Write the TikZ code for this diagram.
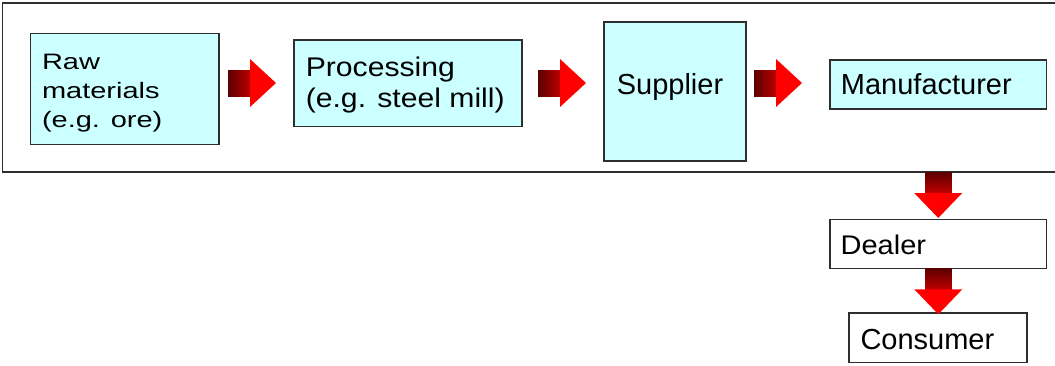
\documentclass[tikz,border=0pt]{standalone}
\usepackage{fontspec}
\setmainfont{Liberation Sans}
\usepackage{graphicx}
\usetikzlibrary{calc}
\definecolor{boxfill}{HTML}{CCFFFF}
\definecolor{arrdark}{HTML}{5C0000}
\definecolor{arrmid}{HTML}{C40000}
\definecolor{arrred}{HTML}{FF0000}
\definecolor{edgecol}{HTML}{2E2E2E}
\newcommand{\sqtxt}[3]{\scalebox{#1}[#2]{\begin{tabular}[t]{@{}l@{}}#3\end{tabular}}}
\begin{document}
\begin{tikzpicture}[x=1pt,y=-1pt,
  frame/.style={draw=edgecol, line width=1.4pt, inner sep=0pt, outer sep=0pt},
  box/.style={draw=edgecol, line width=1.3pt, inner sep=0pt, outer sep=0pt},
  cyanbox/.style={box, fill=boxfill},
  whitebox/.style={box, fill=white},
  lbl/.style={inner sep=0pt, outer sep=0pt, anchor=base west, font=\fontsize{29}{33}\selectfont},
  harrow/.pic={
    \shade[left color=arrdark, right color=arrmid] (0,-13) rectangle (24,13);
    \fill[arrred] (22,-24) -- (48,0) -- (22,24) -- cycle;
  },
  varrow/.pic={
    \shade[top color=arrdark, bottom color=arrmid] (-13,0) rectangle (13,22);
    \fill[arrred] (-24,21) -- (0,46) -- (24,21) -- cycle;
  }]
\useasboundingbox (0,0) rectangle (1055,365);
\fill[white] (0,0) rectangle (1055,365);

% outer frame
\node[frame, minimum width=1053.5pt, minimum height=169pt] (frame) at (529.25,87.5) {};

% boxes
\node[cyanbox, minimum width=188.5pt, minimum height=110.8pt] (raw)  at (124.75,88.9) {};
\node[cyanbox, minimum width=228pt,   minimum height=86.7pt]  (proc) at (408,83.35) {};
\node[cyanbox, minimum width=142pt,   minimum height=139pt]   (supp) at (675,91.5) {};
\node[cyanbox, minimum width=216.5pt, minimum height=49pt]    (manu) at (938.25,84.5) {};
\node[whitebox, minimum width=216.7pt, minimum height=49pt]   (deal) at (938.3,243.8) {};
\node[whitebox, minimum width=178pt,   minimum height=49.7pt] (cons) at (938,337.8) {};

% texts
\node[lbl, font=\fontsize{29}{37.7}\selectfont] (rawt) at ($(raw.north west)+(11.5,35.8)$)
  {\sqtxt{1}{0.77}{Raw\\materials\\(e.g. ore)}};
\node[lbl, font=\fontsize{29}{33.3}\selectfont] (proct) at ($(proc.north west)+(11.8,36.7)$)
  {\sqtxt{1.04}{0.93}{Processing\\(e.g. steel mill)}};
\node[lbl] (suppt) at ($(supp.north west)+(12.8,72.3)$) {Supplier};
\node[lbl] (manut) at ($(manu.north west)+(10.9,34.3)$) {Manufacturer};
\node[lbl] (dealt) at ($(deal.north west)+(10.7,35)$) {\scalebox{1}[0.93]{Dealer}};
\node[lbl] (const) at ($(cons.north west)+(11.5,36.5)$) {Consumer};

% block arrows
\path ($(raw.east)+(9,-5.9)$) pic {harrow};
\path ($(proc.east)+(16,-0.35)$) pic {harrow};
\path ($(supp.east)+(8,-8.5)$) pic {harrow};
\path (frame.south -| manu.south) pic {varrow};
\path (deal.south) pic {varrow};
\end{tikzpicture}
\end{document}
